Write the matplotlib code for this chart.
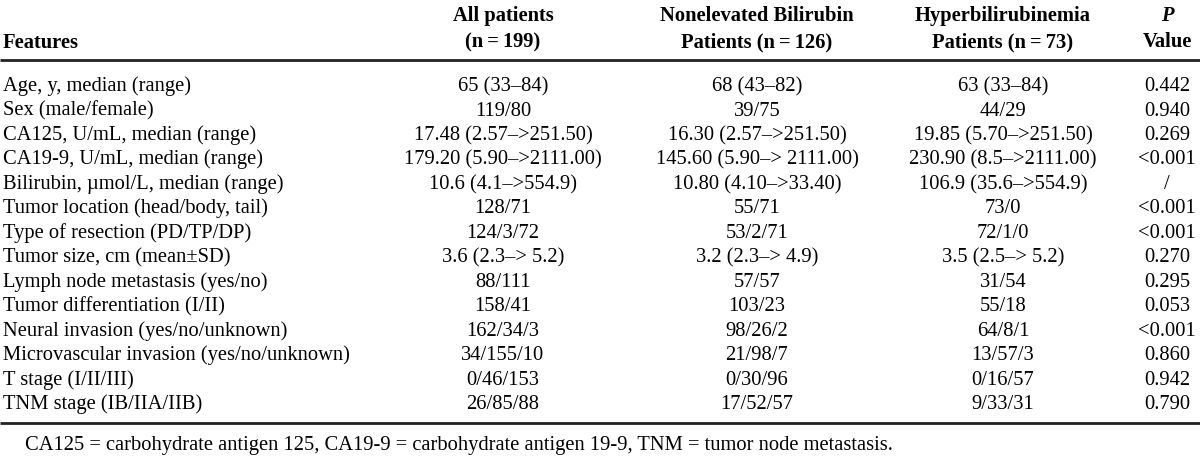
import matplotlib
matplotlib.use("Agg")
import matplotlib.pyplot as plt

plt.rcParams['font.family'] = ['Liberation Serif', 'DejaVu Serif']

# table content
features = [
    "Age, y, median (range)",
    "Sex (male/female)",
    "CA125, U/mL, median (range)",
    "CA19-9, U/mL, median (range)",
    "Bilirubin, \u00b5mol/L, median (range)",
    "Tumor location (head/body, tail)",
    "Type of resection (PD/TP/DP)",
    "Tumor size, cm (mean\u00b1SD)",
    "Lymph node metastasis (yes/no)",
    "Tumor differentiation (I/II)",
    "Neural invasion (yes/no/unknown)",
    "Microvascular invasion (yes/no/unknown)",
    "T stage (I/II/III)",
    "TNM stage (IB/IIA/IIB)",
]
all_patients = [
    "65 (33\u201384)", "119/80", "17.48 (2.57\u2013>251.50)",
    "179.20 (5.90\u2013>2111.00)", "10.6 (4.1\u2013>554.9)", "128/71",
    "124/3/72", "3.6 (2.3\u2013> 5.2)", "88/111", "158/41", "162/34/3",
    "34/155/10", "0/46/153", "26/85/88",
]
nonelevated = [
    "68 (43\u201382)", "39/75", "16.30 (2.57\u2013>251.50)",
    "145.60 (5.90\u2013> 2111.00)", "10.80 (4.10\u2013>33.40)", "55/71",
    "53/2/71", "3.2 (2.3\u2013> 4.9)", "57/57", "103/23", "98/26/2",
    "21/98/7", "0/30/96", "17/52/57",
]
hyper = [
    "63 (33\u201384)", "44/29", "19.85 (5.70\u2013>251.50)",
    "230.90 (8.5\u2013>2111.00)", "106.9 (35.6\u2013>554.9)", "73/0",
    "72/1/0", "3.5 (2.5\u2013> 5.2)", "31/54", "55/18", "64/8/1",
    "13/57/3", "0/16/57", "9/33/31",
]
p_values = [
    "0.442", "0.940", "0.269", "<0.001", "/", "<0.001", "<0.001",
    "0.270", "0.295", "0.053", "<0.001", "0.860", "0.942", "0.790",
]
headers = [
    ("All patients", "(n\u2009=\u2009199)"),
    ("Nonelevated Bilirubin", "Patients (n\u2009=\u2009126)"),
    ("Hyperbilirubinemia", "Patients (n\u2009=\u200973)"),
]
footnote = ("CA125 = carbohydrate antigen 125, CA19-9 = carbohydrate "
            "antigen 19-9, TNM = tumor node metastasis.")

W, H = 1200, 464
fig = plt.figure(figsize=(W / 100, H / 100), dpi=100, facecolor='white')
ax = fig.add_axes([0, 0, 1, 1])
ax.set_xlim(0, W)
ax.set_ylim(H, 0)
ax.axis('off')

fs = 14.8
col_x = [503, 757, 1003, 1167]
row_y0, row_dy = 91, 24.5   # baselines

# header
ax.text(3, 48, "Features", ha='left', va='baseline', fontsize=fs, fontweight='bold')
for (l1, l2), x in zip(headers, col_x[:3]):
    ax.text(x, 21, l1, ha='center', va='baseline', fontsize=fs, fontweight='bold')
    ax.text(x, 47, l2, ha='center', va='baseline', fontsize=fs, fontweight='bold')
ax.text(col_x[3], 21, "P", ha='center', va='baseline', fontsize=fs,
        fontweight='bold', fontstyle='italic')
ax.text(col_x[3], 47, "Value", ha='center', va='baseline', fontsize=fs, fontweight='bold')

ax.plot([0, W], [61, 61], color='#222222', lw=2.0, solid_capstyle='butt')
ax.plot([0, W], [424, 424], color='#222222', lw=2.0, solid_capstyle='butt')

for i, feat in enumerate(features):
    y = row_y0 + i * row_dy
    ax.text(3, y, feat, ha='left', va='baseline', fontsize=fs)
    for x, col in zip(col_x, [all_patients, nonelevated, hyper, p_values]):
        ax.text(x, y, col[i], ha='center', va='baseline', fontsize=fs)

ax.text(25, 450, footnote, ha='left', va='baseline', fontsize=fs)

fig.savefig("out.png", dpi=100, facecolor='white')
